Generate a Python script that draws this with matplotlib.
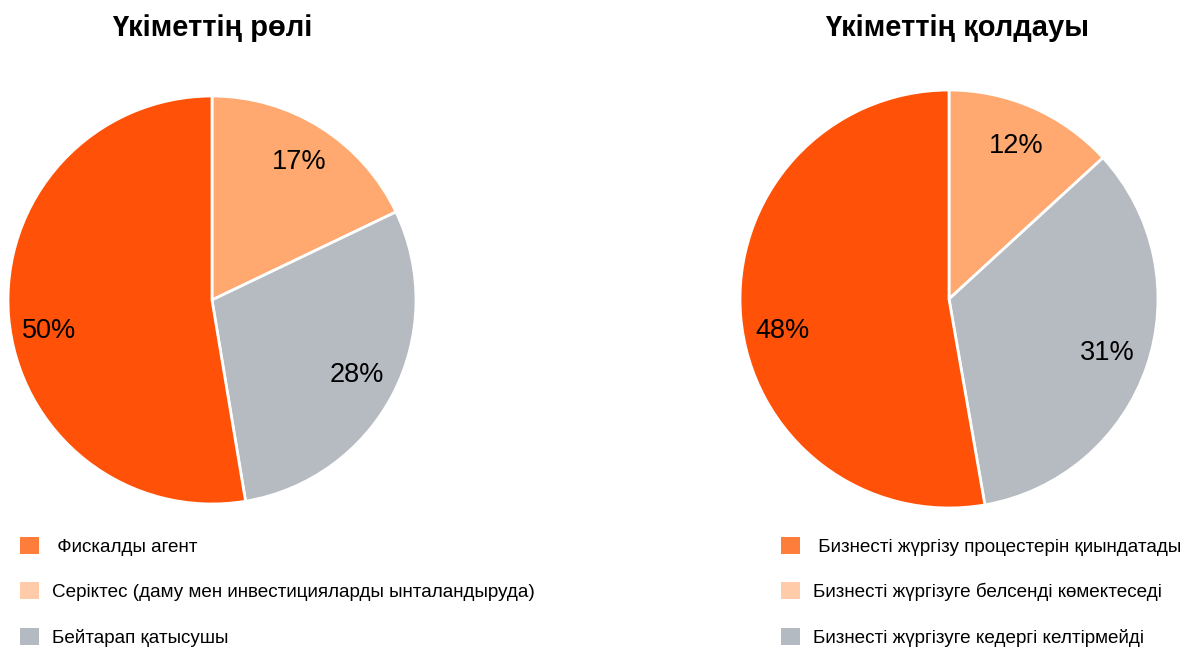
import matplotlib.pyplot as plt
from matplotlib.patches import Patch

plt.rcParams['font.family'] = ['Liberation Sans', 'DejaVu Sans']

# data (drawing order: clockwise from 12 o'clock)
role_values = [17, 28, 50]
support_values = [12, 31, 48]

role_title = 'Үкіметтің рөлі'
support_title = 'Үкіметтің қолдауы'

role_labels = [' Фискалды агент',
               'Серіктес (даму мен инвестицияларды ынталандыруда)',
               'Бейтарап қатысушы']
support_labels = [' Бизнесті жүргізу процестерін қиындатады',
                  'Бизнесті жүргізуге белсенді көмектеседі',
                  'Бизнесті жүргізуге кедергі келтірмейді']

pie_colors = ['#FFA970', '#B6BBC2', '#FF5208']
legend_colors = ['#FF7D3B', '#FFCBA8', '#B4BAC1']

W, H = 1184, 648
fig = plt.figure(figsize=(W / 100, H / 100), dpi=100)


def px_axes(cx, cy, r):
    # axes box in pixel terms (cy measured from top)
    return fig.add_axes([(cx - r) / W, (H - cy - r) / H, 2 * r / W, 2 * r / H])


def draw_pie(ax, values):
    total = sum(values)
    wedges, texts, autotexts = ax.pie(
        values, colors=pie_colors, startangle=90, counterclock=False,
        autopct=lambda p: '%d%%' % round(p * total / 100),
        pctdistance=0.8,
        wedgeprops=dict(edgecolor='white', linewidth=2),
        textprops=dict(fontsize=19.5, color='black'))
    # the big slice label sits a little lower in the original
    x, y = autotexts[2].get_position()
    autotexts[2].set_position((x, y - 0.085))
    ax.set_xlim(-1, 1)
    ax.set_ylim(-1, 1)
    ax.set_aspect('equal')
    ax.axis('off')


ax1 = px_axes(212, 300, 204)
draw_pie(ax1, role_values)
ax2 = px_axes(949, 299, 209)
draw_pie(ax2, support_values)

fig.text(212 / W, 1 - 28 / H, role_title, ha='center', va='center',
         fontsize=21, fontweight='bold')
fig.text(957 / W, 1 - 28 / H, support_title, ha='center', va='center',
         fontsize=21, fontweight='bold')


def add_legend(labels, x_px):
    handles = [Patch(facecolor=c, edgecolor='none') for c in legend_colors]
    fig.legend(handles, labels, loc='upper left',
               bbox_to_anchor=(x_px / W, 1 - 537 / H),
               frameon=False, fontsize=13.6, handlelength=1.0,
               handleheight=1.0, handletextpad=0.72, labelspacing=1.4,
               borderpad=0, borderaxespad=0)


add_legend(role_labels, 20)
add_legend(support_labels, 781)

fig.savefig('out.png', dpi=100)
